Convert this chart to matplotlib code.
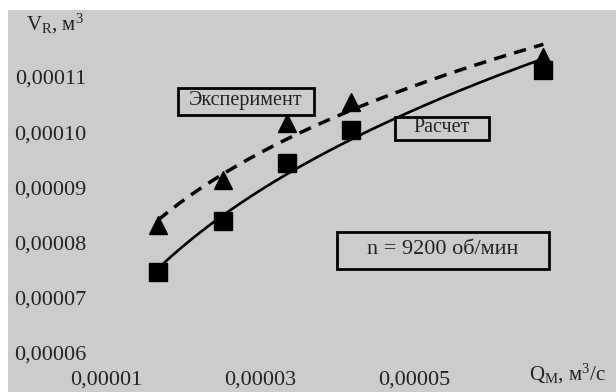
import numpy as np
import matplotlib
matplotlib.use("Agg")
import matplotlib.pyplot as plt
from matplotlib.patches import Rectangle

# flow rate Q_M, m3/s
q_points = [1.675e-5, 2.52e-5, 3.35e-5, 4.18e-5, 6.68e-5]
# calculated volume (squares)
v_calc = [7.47e-5, 8.39e-5, 9.44e-5, 10.04e-5, 11.125e-5]
# experimental volume (triangles)
v_exp = [8.32e-5, 9.13e-5, 10.16e-5, 10.55e-5, 11.36e-5]

x_ticks = [1e-5, 3e-5, 5e-5]
x_labels = ["0,00001", "0,00003", "0,00005"]
y_ticks = [6e-5, 7e-5, 8e-5, 9e-5, 10e-5, 11e-5]
y_labels = ["0,00006", "0,00007", "0,00008", "0,00009", "0,00010", "0,00011"]

W, H = 616, 392
BG = "#cccccc"
INK = "#222222"

plt.rcParams["font.family"] = ["Liberation Serif", "DejaVu Serif"]
plt.rcParams["mathtext.default"] = "regular"


def power_trend(x, y, xs):
    b, a = np.polyfit(np.log(x), np.log(y), 1)
    return np.exp(a) * np.power(xs, b)


def px_box(x0, y0, x1, y1):
    # pixel box (top-left origin) -> figure fraction rectangle
    return Rectangle((x0 / W, 1 - y1 / H), (x1 - x0) / W, (y1 - y0) / H,
                     transform=fig.transFigure, facecolor="none",
                     edgecolor="black", linewidth=2, zorder=5)


fig = plt.figure(figsize=(W / 100, H / 100), dpi=100, facecolor="white")
fig.patches.append(Rectangle((8 / W, 0), 1, 382 / H, transform=fig.transFigure,
                             facecolor=BG, edgecolor="none", zorder=-10))

ax = fig.add_axes([92 / W, 27 / H, 524 / W, 355 / H])
ax.set_facecolor("none")
for s in ax.spines.values():
    s.set_visible(False)

xs = np.linspace(q_points[0], q_points[-1], 200)
ax.plot(xs, power_trend(q_points, v_calc, xs), color="black", lw=1.9)
ax.plot(xs, power_trend(q_points, v_exp, xs), color="black", lw=2.5,
        dashes=(3.6, 2.4))
ax.plot(q_points, v_calc, "s", color="black", ms=13)
ax.plot(q_points, v_exp, "^", color="black", ms=13)

ax.set_xlim(0.8182e-5, 7.623e-5)
ax.set_ylim(5.7826e-5, 12.214e-5)
ax.set_xticks(x_ticks, x_labels)
ax.set_yticks(y_ticks, y_labels)
ax.tick_params(length=0, labelsize=16, pad=4, colors=INK)

fig.text(55 / W, 1 - 24 / H, "V$_{R}$, м$^{3}$", fontsize=15,
         ha="center", va="center", color=INK)
fig.text(567 / W, 1 - 374 / H, "Q$_{M}$, м$^{3}$/с", fontsize=15,
         ha="center", va="center", color=INK)

fig.patches.append(px_box(178, 88, 314, 115))
fig.text(246 / W, 1 - 101 / H, "Эксперимент", fontsize=14.5,
         ha="center", va="center", color=INK)
fig.patches.append(px_box(395, 117, 489, 140))
fig.text(442 / W, 1 - 128 / H, "Расчет", fontsize=14.5,
         ha="center", va="center", color=INK)
fig.patches.append(px_box(337, 232, 549, 269))
fig.text(443 / W, 1 - 250 / H, "n = 9200 об/мин", fontsize=16,
         ha="center", va="center", color=INK)

fig.savefig("out.png", dpi=100, facecolor="white")
